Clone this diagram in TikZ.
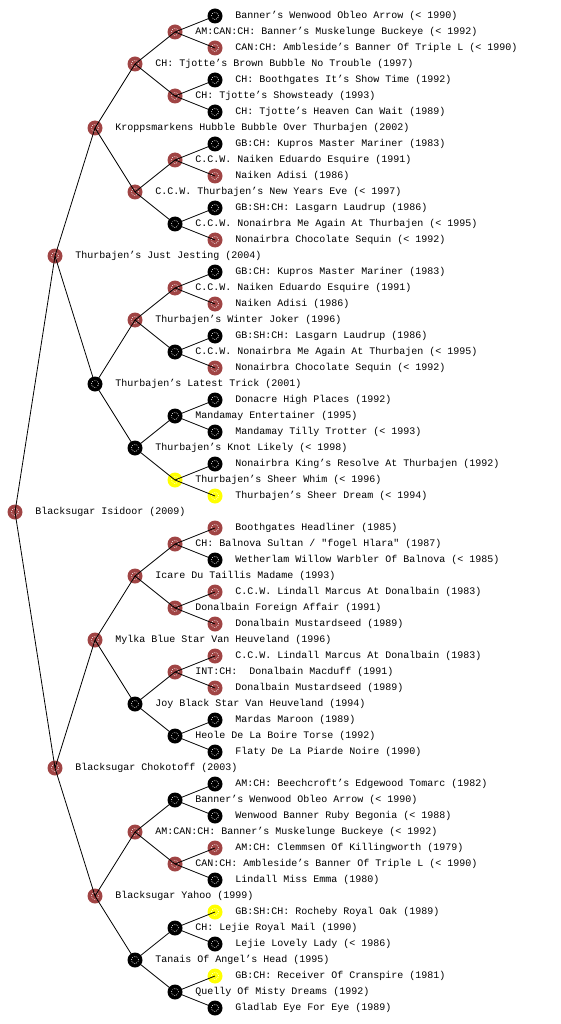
\documentclass[tikz,border=0pt]{standalone}
\usepackage{fontspec}
\setmonofont{Liberation Mono}
\usepackage{tikz}
\definecolor{dogred}{RGB}{160,68,68}
\definecolor{dogyellow}{RGB}{255,255,0}
\tikzset{
  dog/.style={circle, minimum size=15pt, inner sep=0pt,
              path picture={\draw[white, line width=0.7pt, dash pattern=on 0.7pt off 1.3pt]
                (path picture bounding box.center) circle (3.6pt);}},
  reddog/.style={dog, fill=dogred},
  blackdog/.style={dog, fill=black},
  yellowdog/.style={dog, fill=dogyellow},
  lbl/.style={font=\ttfamily, inner sep=0pt},
  edge/.style={line width=0.8pt}
}

\begin{document}
\begin{tikzpicture}[x=1pt, y=-1pt, label distance=12.5pt]
  \useasboundingbox (0,0) rectangle (560,1024);
  % generation 0 and 1
  \node[reddog, label={[lbl]right:{Blacksugar Isidoor (2009)}}] (n) at (15,512) {};
  \node[reddog, label={[lbl]right:{Thurbajen’s Just Jesting (2004)}}] (ns) at (55,256) {};
  \node[reddog, label={[lbl]right:{Blacksugar Chokotoff (2003)}}] (nd) at (55,768) {};
  % generation 2
  \node[reddog, label={[lbl]right:{Kroppsmarkens Hubble Bubble Over Thurbajen (2002)}}] (nss) at (95,128) {};
  \node[blackdog, label={[lbl]right:{Thurbajen’s Latest Trick (2001)}}] (nsd) at (95,384) {};
  \node[reddog, label={[lbl]right:{Mylka Blue Star Van Heuveland (1996)}}] (nds) at (95,640) {};
  \node[reddog, label={[lbl]right:{Blacksugar Yahoo (1999)}}] (ndd) at (95,896) {};
  % generation 3
  \node[reddog, label={[lbl]right:{CH: Tjotte’s Brown Bubble No Trouble (1997)}}] (nsss) at (135,64) {};
  \node[reddog, label={[lbl]right:{C.C.W. Thurbajen’s New Years Eve (< 1997)}}] (nssd) at (135,192) {};
  \node[reddog, label={[lbl]right:{Thurbajen’s Winter Joker (1996)}}] (nsds) at (135,320) {};
  \node[blackdog, label={[lbl]right:{Thurbajen’s Knot Likely (< 1998)}}] (nsdd) at (135,448) {};
  \node[reddog, label={[lbl]right:{Icare Du Taillis Madame (1993)}}] (ndss) at (135,576) {};
  \node[blackdog, label={[lbl]right:{Joy Black Star Van Heuveland (1994)}}] (ndsd) at (135,704) {};
  \node[reddog, label={[lbl]right:{AM:CAN:CH: Banner’s Muskelunge Buckeye (< 1992)}}] (ndds) at (135,832) {};
  \node[blackdog, label={[lbl]right:{Tanais Of Angel’s Head (1995)}}] (nddd) at (135,960) {};
  % generation 4
  \node[reddog, label={[lbl]right:{AM:CAN:CH: Banner’s Muskelunge Buckeye (< 1992)}}] (nssss) at (175,32) {};
  \node[reddog, label={[lbl]right:{CH: Tjotte’s Showsteady (1993)}}] (nsssd) at (175,96) {};
  \node[reddog, label={[lbl]right:{C.C.W. Naiken Eduardo Esquire (1991)}}] (nssds) at (175,160) {};
  \node[blackdog, label={[lbl]right:{C.C.W. Nonairbra Me Again At Thurbajen (< 1995)}}] (nssdd) at (175,224) {};
  \node[reddog, label={[lbl]right:{C.C.W. Naiken Eduardo Esquire (1991)}}] (nsdss) at (175,288) {};
  \node[blackdog, label={[lbl]right:{C.C.W. Nonairbra Me Again At Thurbajen (< 1995)}}] (nsdsd) at (175,352) {};
  \node[blackdog, label={[lbl]right:{Mandamay Entertainer (1995)}}] (nsdds) at (175,416) {};
  \node[yellowdog, label={[lbl]right:{Thurbajen’s Sheer Whim (< 1996)}}] (nsddd) at (175,480) {};
  \node[reddog, label={[lbl]right:{CH: Balnova Sultan / "fogel Hlara" (1987)}}] (ndsss) at (175,544) {};
  \node[reddog, label={[lbl]right:{Donalbain Foreign Affair (1991)}}] (ndssd) at (175,608) {};
  \node[reddog, label={[lbl]right:{INT:CH:~ Donalbain Macduff (1991)}}] (ndsds) at (175,672) {};
  \node[blackdog, label={[lbl]right:{Heole De La Boire Torse (1992)}}] (ndsdd) at (175,736) {};
  \node[blackdog, label={[lbl]right:{Banner’s Wenwood Obleo Arrow (< 1990)}}] (nddss) at (175,800) {};
  \node[reddog, label={[lbl]right:{CAN:CH: Ambleside’s Banner Of Triple L (< 1990)}}] (nddsd) at (175,864) {};
  \node[blackdog, label={[lbl]right:{CH: Lejie Royal Mail (1990)}}] (nddds) at (175,928) {};
  \node[blackdog, label={[lbl]right:{Quelly Of Misty Dreams (1992)}}] (ndddd) at (175,992) {};
  % generation 5
  \node[blackdog, label={[lbl]right:{Banner’s Wenwood Obleo Arrow (< 1990)}}] (nsssss) at (215,16) {};
  \node[reddog, label={[lbl]right:{CAN:CH: Ambleside’s Banner Of Triple L (< 1990)}}] (nssssd) at (215,48) {};
  \node[blackdog, label={[lbl]right:{CH: Boothgates It’s Show Time (1992)}}] (nsssds) at (215,80) {};
  \node[blackdog, label={[lbl]right:{CH: Tjotte’s Heaven Can Wait (1989)}}] (nsssdd) at (215,112) {};
  \node[blackdog, label={[lbl]right:{GB:CH: Kupros Master Mariner (1983)}}] (nssdss) at (215,144) {};
  \node[reddog, label={[lbl]right:{Naiken Adisi (1986)}}] (nssdsd) at (215,176) {};
  \node[blackdog, label={[lbl]right:{GB:SH:CH: Lasgarn Laudrup (1986)}}] (nssdds) at (215,208) {};
  \node[reddog, label={[lbl]right:{Nonairbra Chocolate Sequin (< 1992)}}] (nssddd) at (215,240) {};
  \node[blackdog, label={[lbl]right:{GB:CH: Kupros Master Mariner (1983)}}] (nsdsss) at (215,272) {};
  \node[reddog, label={[lbl]right:{Naiken Adisi (1986)}}] (nsdssd) at (215,304) {};
  \node[blackdog, label={[lbl]right:{GB:SH:CH: Lasgarn Laudrup (1986)}}] (nsdsds) at (215,336) {};
  \node[reddog, label={[lbl]right:{Nonairbra Chocolate Sequin (< 1992)}}] (nsdsdd) at (215,368) {};
  \node[blackdog, label={[lbl]right:{Donacre High Places (1992)}}] (nsddss) at (215,400) {};
  \node[blackdog, label={[lbl]right:{Mandamay Tilly Trotter (< 1993)}}] (nsddsd) at (215,432) {};
  \node[blackdog, label={[lbl]right:{Nonairbra King’s Resolve At Thurbajen (1992)}}] (nsddds) at (215,464) {};
  \node[yellowdog, label={[lbl]right:{Thurbajen’s Sheer Dream (< 1994)}}] (nsdddd) at (215,496) {};
  \node[reddog, label={[lbl]right:{Boothgates Headliner (1985)}}] (ndssss) at (215,528) {};
  \node[blackdog, label={[lbl]right:{Wetherlam Willow Warbler Of Balnova (< 1985)}}] (ndsssd) at (215,560) {};
  \node[reddog, label={[lbl]right:{C.C.W. Lindall Marcus At Donalbain (1983)}}] (ndssds) at (215,592) {};
  \node[reddog, label={[lbl]right:{Donalbain Mustardseed (1989)}}] (ndssdd) at (215,624) {};
  \node[reddog, label={[lbl]right:{C.C.W. Lindall Marcus At Donalbain (1983)}}] (ndsdss) at (215,656) {};
  \node[reddog, label={[lbl]right:{Donalbain Mustardseed (1989)}}] (ndsdsd) at (215,688) {};
  \node[blackdog, label={[lbl]right:{Mardas Maroon (1989)}}] (ndsdds) at (215,720) {};
  \node[blackdog, label={[lbl]right:{Flaty De La Piarde Noire (1990)}}] (ndsddd) at (215,752) {};
  \node[blackdog, label={[lbl]right:{AM:CH: Beechcroft’s Edgewood Tomarc (1982)}}] (nddsss) at (215,784) {};
  \node[blackdog, label={[lbl]right:{Wenwood Banner Ruby Begonia (< 1988)}}] (nddssd) at (215,816) {};
  \node[reddog, label={[lbl]right:{AM:CH: Clemmsen Of Killingworth (1979)}}] (nddsds) at (215,848) {};
  \node[blackdog, label={[lbl]right:{Lindall Miss Emma (1980)}}] (nddsdd) at (215,880) {};
  \node[yellowdog, label={[lbl]right:{GB:SH:CH: Rocheby Royal Oak (1989)}}] (ndddss) at (215,912) {};
  \node[blackdog, label={[lbl]right:{Lejie Lovely Lady (< 1986)}}] (ndddsd) at (215,944) {};
  \node[yellowdog, label={[lbl]right:{GB:CH: Receiver Of Cranspire (1981)}}] (ndddds) at (215,976) {};
  \node[blackdog, label={[lbl]right:{Gladlab Eye For Eye (1989)}}] (nddddd) at (215,1008) {};
  % sire and dam lines
  \foreach \p in {n,ns,nd,nss,nsd,nds,ndd,nsss,nssd,nsds,nsdd,ndss,ndsd,ndds,nddd,
                  nssss,nsssd,nssds,nssdd,nsdss,nsdsd,nsdds,nsddd,
                  ndsss,ndssd,ndsds,ndsdd,nddss,nddsd,nddds,ndddd}
    \draw[edge] (\p.center) -- (\p s.center) (\p.center) -- (\p d.center);
\end{tikzpicture}
\end{document}
